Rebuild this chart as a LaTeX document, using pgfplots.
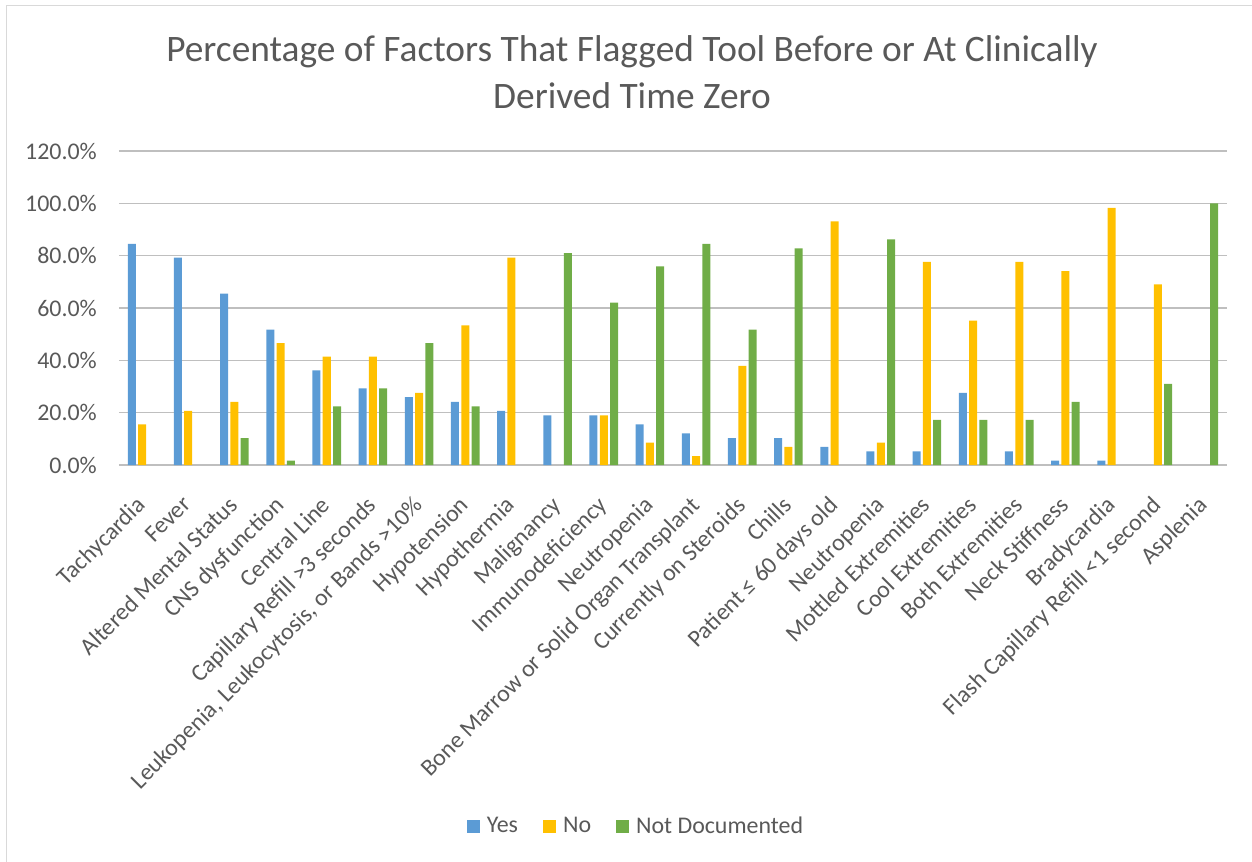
\documentclass[border=0pt]{standalone}
\usepackage{pgfplots}
\pgfplotsset{compat=1.18}
\usepackage{fontspec}
\setmainfont{Carlito}
\definecolor{cYes}{HTML}{5B9BD5}
\definecolor{cNo}{HTML}{FFC000}
\definecolor{cND}{HTML}{70AD47}
\definecolor{txt}{HTML}{595959}
\definecolor{grid}{HTML}{D9D9D9}
\begin{document}
\begin{tikzpicture}
\path[use as bounding box] (-119bp,-397bp) rectangle (1133bp,465bp);
\draw[grid, line width=1bp] (-112bp,-397bp) -- (-112bp,459bp) -- (1133bp,459bp);
\begin{axis}[
  at={(0,0)}, anchor=south west,
  scale only axis, width=1108bp, height=314bp,
  ybar=2.3bp, bar width=8bp,
  xmin=-0.5, xmax=23.5, ymin=0, ymax=120,
  ytick={0,20,...,120},
  /pgf/number format/assume math mode=true,
  yticklabel={\pgfmathprintnumber[fixed,fixed zerofill,precision=1]{\tick}\%},
  xtick={0,...,23},
  xticklabels={Tachycardia,Fever,Altered Mental Status,CNS dysfunction,Central Line,Capillary Refill >3 seconds,{Leukopenia, Leukocytosis, or Bands >10\%},Hypotension,Hypothermia,Malignancy,Immunodeficiency,Neutropenia,Bone Marrow or Solid Organ Transplant,Currently on Steroids,Chills,Patient ≤ 60 days old,Neutropenia,Mottled Extremities,Cool Extremities,Both Extremities,Neck Stiffness,Bradycardia,Flash Capillary Refill <1 second,Asplenia},
  major tick length=0pt, tick style={draw=none},
  xmajorgrids=false,
  axis line style={draw=none},
  ymajorgrids, major grid style={grid, line width=1.3bp},
  yticklabel style={font=\fontsize{24}{28}\selectfont, text=txt, inner sep=0pt, xshift=-22bp},
  xticklabel style={font=\fontsize{24}{28}\selectfont, text=txt, rotate=45, anchor=north east, inner sep=0pt, xshift=-26bp, yshift=-16bp},
  unbounded coords=discard,
  legend style={at={(0.4666,-1.1497)}, anchor=center, draw=none, legend columns=3, font=\fontsize{24}{28}\selectfont, text=txt, /tikz/every even column/.append style={column sep=23bp}, /tikz/every odd column/.append style={column sep=5bp}},
  legend image code/.code={\fill[#1] (0bp,-6.5bp) rectangle (13bp,6.5bp);},
  title={Percentage of Factors That Flagged Tool Before or At Clinically\\Derived Time Zero},
  title style={at={(0.463,1.232)}, anchor=center, align=center, text=txt, font=\fontsize{37.5}{47}\selectfont},
]
\addplot[fill=cYes, draw=none] coordinates {
(0,84.5) (1,79.3) (2,65.5) (3,51.7) (4,36.2) (5,29.3) (6,25.9) (7,24.1) (8,20.7) (9,19.0) (10,19.0) (11,15.5) (12,12.1) (13,10.3) (14,10.3) (15,6.9) (16,5.2) (17,5.2) (18,27.6) (19,5.2) (20,1.7) (21,1.7) (22,nan) (23,nan)};
\addplot[fill=cNo, draw=none] coordinates {
(0,15.5) (1,20.7) (2,24.1) (3,46.6) (4,41.4) (5,41.4) (6,27.6) (7,53.4) (8,79.3) (9,nan) (10,19.0) (11,8.6) (12,3.4) (13,37.9) (14,6.9) (15,93.1) (16,8.6) (17,77.6) (18,55.2) (19,77.6) (20,74.1) (21,98.3) (22,69.0) (23,nan)};
\addplot[fill=cND, draw=none] coordinates {
(0,nan) (1,nan) (2,10.3) (3,1.7) (4,22.4) (5,29.3) (6,46.6) (7,22.4) (8,nan) (9,81.0) (10,62.1) (11,75.9) (12,84.5) (13,51.7) (14,82.8) (15,nan) (16,86.2) (17,17.2) (18,17.2) (19,17.2) (20,24.1) (21,nan) (22,31.0) (23,100)};
\legend{Yes,No,Not Documented}
\end{axis}
\end{tikzpicture}
\end{document}
